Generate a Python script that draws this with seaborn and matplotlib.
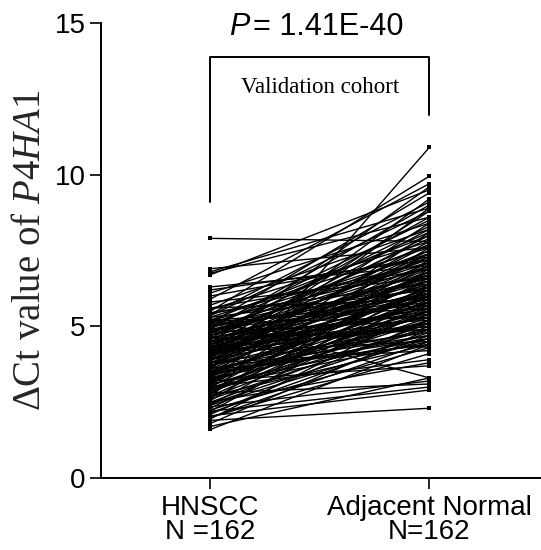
import matplotlib

matplotlib.use("Agg")

import matplotlib.pyplot as plt
import pandas as pd
import seaborn as sns

# paired delta-Ct values (one entry per patient)
GROUPS = ["HNSCC", "Adjacent Normal"]
TICK_LABELS = ["HNSCC\nN =162", "Adjacent Normal\nN=162"]

hnscc = [
    1.6, 1.7, 1.8, 1.9, 1.95, 2.0, 2.05, 2.1, 2.15, 2.2,
    2.25, 2.3, 2.35, 2.4, 2.45, 2.5, 2.5, 2.55, 2.6, 2.65,
    2.7, 2.7, 2.75, 2.8, 2.85, 2.9, 2.9, 2.95, 3.0, 3.0,
    3.05, 3.1, 3.1, 3.15, 3.2, 3.2, 3.25, 3.3, 3.3, 3.35,
    3.4, 3.4, 3.45, 3.5, 3.5, 3.55, 3.6, 3.6, 3.65, 3.7,
    3.7, 3.75, 3.8, 3.8, 3.85, 3.9, 3.9, 3.95, 4.0, 4.0,
    4.05, 4.1, 4.1, 4.15, 4.2, 4.2, 4.25, 4.3, 4.3, 4.35,
    4.4, 4.4, 4.45, 4.5, 4.5, 4.55, 4.6, 4.6, 4.65, 4.7,
    4.7, 4.75, 4.8, 4.8, 4.85, 4.9, 4.9, 4.95, 5.0, 5.0,
    5.0, 5.05, 5.1, 5.1, 5.15, 5.2, 5.2, 5.25, 5.3, 5.3,
    5.35, 5.4, 5.45, 5.5, 5.55, 5.6, 5.7, 5.8, 5.9, 6.0,
    6.1, 6.3, 6.7, 6.8, 6.9, 7.9,
    2.4, 2.6, 2.8, 3.0, 3.2, 3.4, 3.6, 3.8, 4.0, 4.2,
    4.4, 4.6, 4.8, 5.0, 5.2, 2.9, 3.1, 3.3, 3.5, 3.7,
    3.9, 4.1, 4.3, 4.5, 4.7, 4.9, 5.1, 3.6, 3.8, 4.0,
    4.2, 4.4, 4.6, 4.8, 5.4, 5.6, 6.2, 6.75, 2.2, 2.0,
    3.95, 4.05, 4.15, 4.25, 4.35, 3.45,
]

adjacent = [
    4.4, 3.3, 4.9, 2.3, 5.6, 4.5, 2.9, 5.2, 4.7, 6.1,
    4.3, 5.8, 3.2, 6.4, 4.8, 5.1, 3.8, 6.9, 10.9, 5.5,
    5.9, 4.4, 7.2, 3.1, 5.3, 6.2, 4.9, 5.7, 6.6, 4.5,
    5.4, 7.6, 4.6, 6.0, 3.7, 6.8, 5.2, 4.7, 8.1, 5.6,
    6.3, 4.9, 4.6, 5.8, 7.0, 4.4, 6.5, 5.1, 7.4, 6.1,
    5.5, 8.4, 6.7, 4.8, 7.8, 6.0, 5.3, 9.2, 6.4, 7.1,
    5.7, 6.9, 8.8, 4.5, 6.2, 7.5, 5.9, 8.0, 6.6, 4.9,
    7.3, 5.6, 9.6, 6.8, 5.0, 7.9, 6.3, 8.6, 5.4, 7.0,
    6.1, 8.3, 5.2, 7.7, 6.5, 9.0, 5.8, 7.2, 6.0, 8.5,
    6.7, 4.3, 7.4, 9.4, 5.6, 8.0, 6.9, 3.3, 7.6, 6.2,
    8.8, 7.1, 6.4, 9.95, 7.8, 5.9, 8.2, 6.6, 9.7, 7.3,
    8.4, 7.0, 9.5, 8.9, 7.6, 7.8,
    4.6, 5.0, 6.0, 3.9, 5.5, 6.2, 4.7, 5.8, 7.7, 5.3,
    6.5, 6.0, 7.1, 8.1, 5.7, 5.2, 6.3, 5.4, 4.4, 6.8,
    7.3, 5.1, 6.4, 5.9, 7.5, 6.3, 5.3, 8.9, 4.2, 6.7,
    5.6, 8.2, 4.9, 6.6, 9.1, 6.9, 7.2, 8.6, 3.0, 4.1,
    6.1, 7.0, 5.0, 7.4, 5.5, 5.8,
]

P_TEXT = "= 1.41E-40"
COHORT = "Validation cohort"


def build_frame() -> pd.DataFrame:
    assert len(hnscc) == len(adjacent) == 162
    n = len(hnscc)
    return pd.DataFrame(
        {
            "pair": list(range(n)) * 2,
            "pos": [0] * n + [1] * n,
            "value": hnscc + adjacent,
        }
    )


def main() -> None:
    sns.set_style("ticks")
    plt.rcParams["font.family"] = ["Liberation Sans", "DejaVu Sans"]
    plt.rcParams["mathtext.fontset"] = "custom"
    plt.rcParams["mathtext.rm"] = "Liberation Serif"
    plt.rcParams["mathtext.it"] = "Liberation Serif:italic"

    data = build_frame()

    fig = plt.figure(figsize=(5.41, 5.5), dpi=100)
    ax = fig.add_axes([0.1867, 0.1309, 0.8133, 0.8273])

    sns.lineplot(
        data=data,
        x="pos",
        y="value",
        units="pair",
        estimator=None,
        color="black",
        linewidth=1.0,
        marker="s",
        markersize=3.4,
        markeredgewidth=0,
        ax=ax,
    )

    # significance bracket
    ax.plot([0, 0, 1, 1], [9.1, 13.87, 13.87, 11.97], color="black", lw=1.4)
    ax.text(0.18, 14.6, "P", ha="right", va="baseline", fontsize=22,
            style="italic", color="black")
    ax.text(0.195, 14.6, P_TEXT, ha="left", va="baseline", fontsize=22,
            color="black")
    ax.text(0.5, 12.86, COHORT, ha="center", va="center", fontsize=16.5,
            family=["Liberation Serif"], color="black")

    ax.set_xlim(-0.5, 1.51)
    ax.set_ylim(0, 15)
    ax.set_xticks([0, 1])
    ax.set_xticklabels(TICK_LABELS, fontsize=20, linespacing=0.9)
    ax.set_yticks([0, 5, 10, 15])
    ax.tick_params(axis="y", labelsize=20, length=8, width=1.2, pad=3,
                   colors="black")
    ax.tick_params(axis="x", length=8, width=1.2, pad=4, colors="black")
    ax.set_xlabel("")
    ax.set_ylabel(r"ΔCt value of $\mathit{P4HA1}$", fontsize=28,
                  family=["Liberation Serif"], labelpad=4)

    sns.despine(ax=ax)
    for side in ("left", "bottom"):
        ax.spines[side].set_linewidth(1.4)
        ax.spines[side].set_color("black")

    fig.savefig("out.png", dpi=100)
    plt.close(fig)


if __name__ == "__main__":
    main()
